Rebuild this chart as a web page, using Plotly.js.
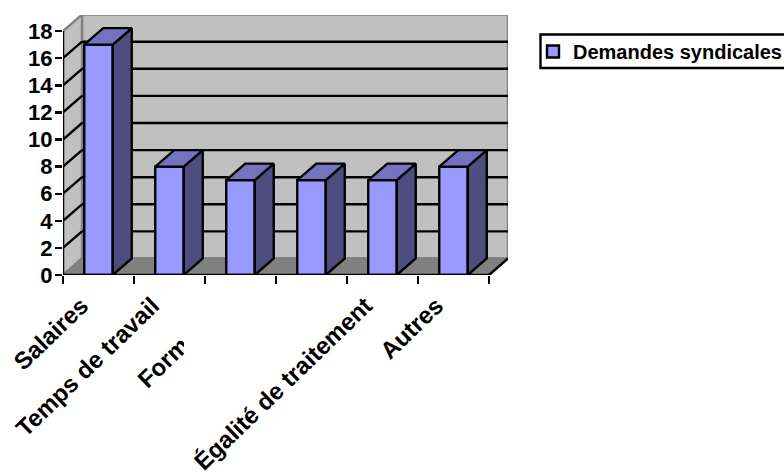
<!DOCTYPE html>
<html><head><meta charset="utf-8">
<script src="https://cdn.plot.ly/plotly-3.0.1.min.js"></script>
<style>html,body{margin:0;padding:0;background:#fff;overflow:hidden}</style>
</head><body><div id="chart" style="width:784px;height:473px"></div>
<script>
const categories = ["Salaires","Temps de travail","Formation","","Égalité de traitement","Autres"];
const values = [17,8,7,7,7,8];
const seriesName = "Demandes syndicales";
const yTicks = [0,2,4,6,8,10,12,14,16,18];
const boundaries = [-0.5,0.5,1.5,2.5,3.5,4.5,5.5];

// plot frame in pixels
const L=63,R=508,T=15,B=275;
const unitX=71, unitY=13.55, depthPxX=19, depthPxY=16.5;
const dx=depthPxX/unitX, dy=depthPxY/unitY;
const x0=-0.5,x1=5.5,yMax=18,barW=28.5/71,labelShift=-0.24;
const colors={front:"#9999ff",side:"#4d4d80",top:"#7373bf",wall:"#c0c0c0",floor:"#808080",edge:"#808080"};
const font={family:"'Liberation Sans',Arial,sans-serif",size:20,color:"#000",weight:700};
const yFont={...font,size:22};
const xFont={...font,size:24};
const lw=2.4;

const poly=(pts,fill,color,w)=>({type:"path",layer:"below",xref:"x",yref:"y",
  path:"M"+pts.map(p=>p[0]+","+p[1]).join("L")+"Z",fillcolor:fill,line:{color:color,width:w}});
const seg=(a,b,color,w)=>({type:"line",layer:"below",xref:"x",yref:"y",x0:a[0],y0:a[1],x1:b[0],y1:b[1],line:{color:color,width:w}});
const px=v=>(v-L)/(R-L), py=v=>(B-v)/(B-T);

const shapes=[
  poly([[x0+dx,dy],[x1+dx,dy],[x1+dx,yMax+dy],[x0+dx,yMax+dy]],colors.wall,colors.edge,lw),
  poly([[x0,0],[x0+dx,dy],[x0+dx,yMax+dy],[x0,yMax]],colors.wall,colors.edge,lw),
  poly([[x0,0],[x0+dx,dy],[x1+dx,dy],[x1,0]],colors.floor,colors.edge,lw),
  seg([x1,0],[x1+dx,dy],"#000",lw)
];
yTicks.filter(v=>v>0&&v<yMax).forEach(v=>{
  shapes.push(seg([x0+dx,v+dy],[x1+dx,v+dy],"#000",lw));
  shapes.push(seg([x0,v],[x0+dx,v+dy],"#000",lw));
});
// white patch that hides the end of the third label, as in the picture
shapes.push({type:"rect",layer:"above",xref:"paper",yref:"paper",
  x0:px(184),x1:px(240),y0:py(356),y1:py(286),fillcolor:"#fff",line:{width:0}});
// legend frame, open on the right where the picture cuts it
shapes.push({type:"rect",layer:"above",xref:"paper",yref:"paper",
  x0:px(540.5),x1:px(800),y0:py(68),y1:py(34.5),fillcolor:"rgba(0,0,0,0)",line:{color:"#000",width:2.4}});

const traces=[{type:"bar",name:seriesName,x:values.map((_,i)=>i),y:values,width:barW,
  marker:{color:colors.front,line:{color:"#000",width:lw}},showlegend:true,hoverinfo:"skip"}];
values.forEach((v,i)=>{
  const l=i-barW/2,r=i+barW/2;
  traces.push({type:"scatter",mode:"lines",fill:"toself",fillcolor:colors.side,showlegend:false,hoverinfo:"skip",cliponaxis:false,
    x:[r,r+dx,r+dx,r,r],y:[0,dy,v+dy,v,0],line:{color:"#000",width:lw}});
  traces.push({type:"scatter",mode:"lines",fill:"toself",fillcolor:colors.top,showlegend:false,hoverinfo:"skip",cliponaxis:false,
    x:[l,l+dx,r+dx,r,l],y:[v,v+dy,v+dy,v,v],line:{color:"#000",width:lw}});
});
traces.push({type:"scatter",mode:"lines",x:[x0,x0,x1],y:[yMax,0,0],line:{color:"#000",width:lw},showlegend:false,hoverinfo:"skip",cliponaxis:false});

const layout={
  width:784,height:473,paper_bgcolor:"#fff",plot_bgcolor:"rgba(0,0,0,0)",
  margin:{l:L,r:784-R,t:T,b:473-B,pad:0,autoexpand:false},
  font:font,bargap:0,shapes:shapes,showlegend:true,
  legend:{x:px(533),y:py(32),xanchor:"left",yanchor:"top",bgcolor:"rgba(0,0,0,0)",borderwidth:0,font:font,itemclick:false},
  xaxis:{range:[x0,x0+(R-L)/unitX],showgrid:false,zeroline:false,showline:false,automargin:false,fixedrange:true,
    tickmode:"array",tickvals:categories.map((_,i)=>i+labelShift),ticktext:categories,tickangle:-44,ticks:"",ticklen:0,ticklabelstandoff:11,tickfont:xFont,
    minor:{tickmode:"array",tickvals:boundaries,ticks:"outside",ticklen:8,tickwidth:lw,tickcolor:"#000",showgrid:false}},
  yaxis:{range:[0,(B-T)/unitY],showgrid:false,zeroline:false,showline:false,automargin:false,fixedrange:true,
    tickmode:"array",tickvals:yTicks,ticks:"outside",ticklen:7,tickwidth:lw,tickcolor:"#000",tickfont:yFont,ticklabelstandoff:-2}
};
Plotly.newPlot("chart",traces,layout,{displayModeBar:false,staticPlot:true});
</script></body></html>
